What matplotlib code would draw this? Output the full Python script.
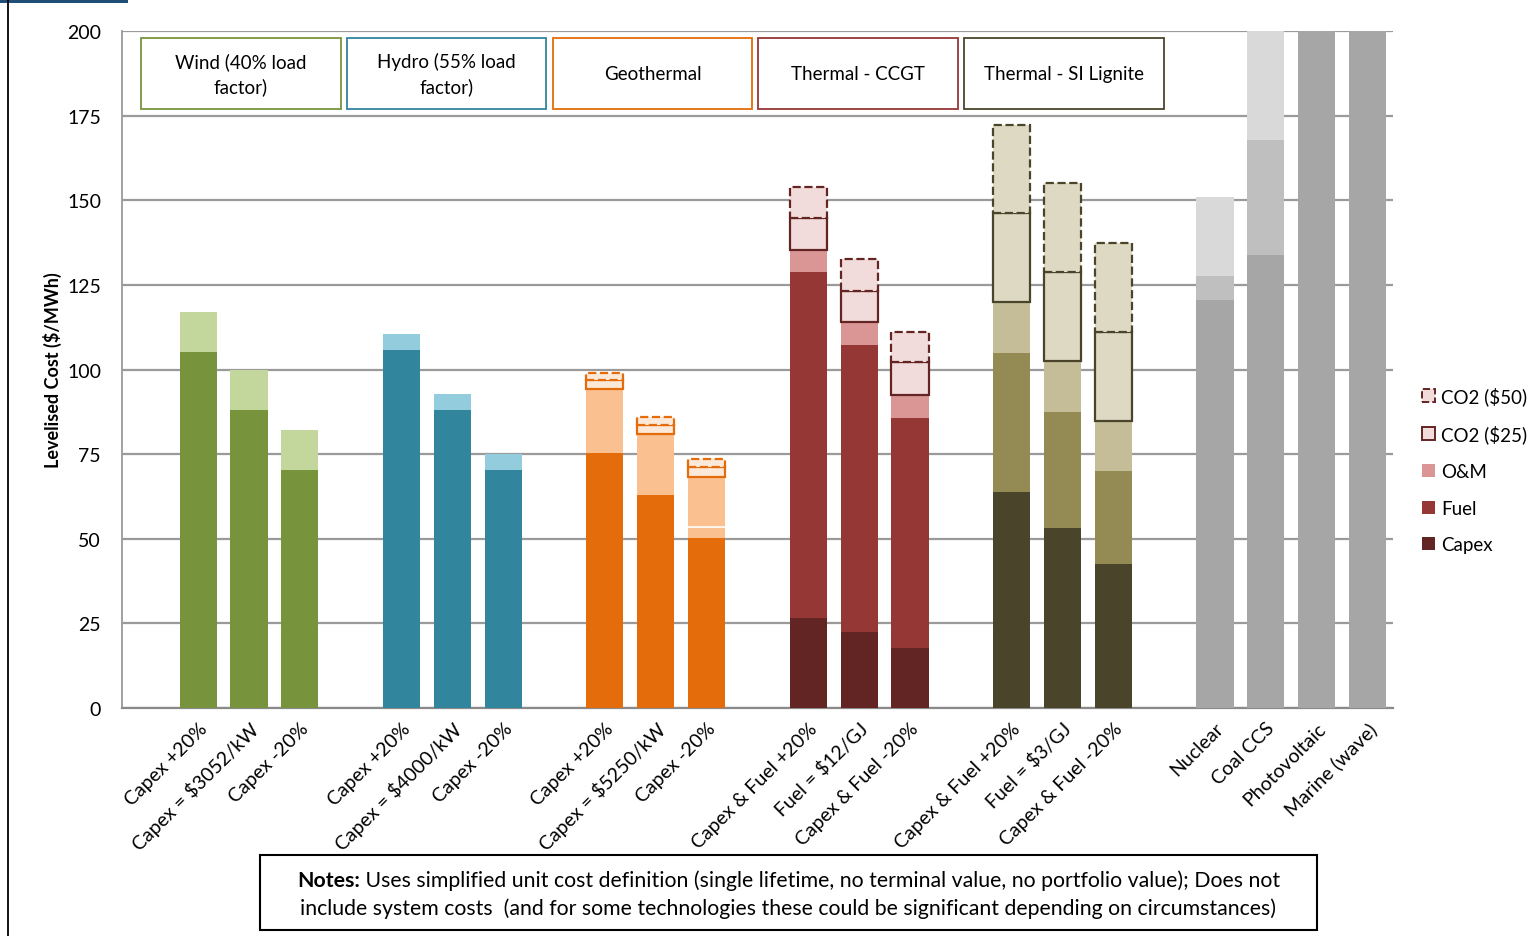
import matplotlib
matplotlib.use("Agg")
import matplotlib.pyplot as plt
from matplotlib.patches import Patch, Rectangle
from matplotlib.lines import Line2D

plt.rcParams['font.family'] = ['Lato', 'DejaVu Sans']

# ---- data ($/MWh) ----
wind_labels = ["Capex +20%", "Capex = $3052/kW", "Capex -20%"]
wind_capex = [105.2, 88.0, 70.3]
wind_om = [11.8, 11.9, 11.8]

hydro_labels = ["Capex +20%", "Capex = $4000/kW", "Capex -20%"]
hydro_capex = [105.8, 88.0, 70.3]
hydro_om = [4.7, 4.8, 4.7]

geo_labels = ["Capex +20%", "Capex = $5250/kW", "Capex -20%"]
geo_capex = [75.3, 62.9, 50.2]
geo_extra = [0.0, 0.0, 3.3]
geo_om = [18.9, 18.0, 14.8]
geo_co2_25 = [2.7, 2.8, 2.8]
geo_co2_50 = [2.1, 2.4, 2.5]

ccgt_labels = ["Capex & Fuel +20%", "Fuel = $12/GJ", "Capex & Fuel -20%"]
ccgt_capex = [26.6, 22.5, 17.7]
ccgt_fuel = [102.1, 84.7, 68.0]
ccgt_om = [6.7, 6.7, 6.8]
ccgt_co2_25 = [9.4, 9.3, 9.7]
ccgt_co2_50 = [9.2, 9.4, 8.9]

lig_labels = ["Capex & Fuel +20%", "Fuel = $3/GJ", "Capex & Fuel -20%"]
lig_capex = [63.8, 53.2, 42.5]
lig_fuel = [41.1, 34.3, 27.5]
lig_om = [15.1, 14.9, 14.9]
lig_co2_25 = [26.1, 26.4, 26.3]
lig_co2_50 = [26.2, 26.3, 26.2]

other_labels = ["Nuclear", "Coal CCS", "Photovoltaic", "Marine (wave)"]
other_a = [120.5, 133.9, 320.0, 290.0]
other_b = [7.2, 33.9, 0.0, 0.0]
other_c = [23.2, 60.0, 0.0, 0.0]

group_titles = ["Wind (40% load\nfactor)", "Hydro (55% load\nfactor)", "Geothermal",
                "Thermal - CCGT", "Thermal - SI Lignite"]

notes_bold = "Notes:"
notes_line1 = ("Uses simplified unit cost definition (single lifetime, no terminal value, "
               "no portfolio value); Does not")
notes_line2 = ("include system costs  (and for some technologies these could be significant "
               "depending on circumstances)")

# ---- figure ----
fig = plt.figure(figsize=(15.28, 9.37), dpi=100)
ax = fig.add_axes([0.0798, 0.2433, 0.8318, 0.7225])

W = 0.73
def xs(start):
    return [start + i for i in range(3)]

def stack(ax, x, segs, colors, edge=None):
    bottom = [0.0] * len(x)
    n = len(segs)
    for k, (vals, col) in enumerate(zip(segs, colors)):
        is_co2 = edge is not None and k >= n - 2
        ls = '--' if (is_co2 and k == n - 1) else '-'
        ax.bar(x, vals, W, bottom=bottom, color=col,
               edgecolor=edge if is_co2 else 'none',
               linewidth=1.6 if is_co2 else 0, linestyle=ls, zorder=3)
        bottom = [b + v for b, v in zip(bottom, vals)]

x_wind, x_hydro, x_geo, x_ccgt, x_lig = xs(1), xs(5), xs(9), xs(13), xs(17)
x_other = [21, 22, 23, 24]

stack(ax, x_wind, [wind_capex, wind_om], ['#77933C', '#C3D69B'])
stack(ax, x_hydro, [hydro_capex, hydro_om], ['#31859C', '#93CDDD'])
stack(ax, x_geo, [geo_capex, geo_extra, geo_om, geo_co2_25, geo_co2_50],
      ['#E46C0A', '#FAC090', '#FAC090', '#FDE9D9', '#FDE9D9'], edge='#E46C0A')
# white divider in the last geothermal bar
ax.hlines([geo_capex[2] + geo_extra[2]], x_geo[2] - W / 2, x_geo[2] + W / 2,
          colors='white', linewidth=1.2, zorder=4)
stack(ax, x_ccgt, [ccgt_capex, ccgt_fuel, ccgt_om, ccgt_co2_25, ccgt_co2_50],
      ['#632523', '#953735', '#D99694', '#F2DCDB', '#F2DCDB'], edge='#632523')
stack(ax, x_lig, [lig_capex, lig_fuel, lig_om, lig_co2_25, lig_co2_50],
      ['#4A452A', '#948A54', '#C4BD97', '#DDD9C3', '#DDD9C3'], edge='#4A452A')
stack(ax, x_other, [other_a, other_b, other_c], ['#A6A6A6', '#BFBFBF', '#D9D9D9'])

ax.set_xlim(-0.5, 24.5)
ax.set_ylim(0, 200)
ax.set_yticks(range(0, 201, 25))
ax.yaxis.grid(True, color='#9A9A9A', linewidth=1.6, zorder=0)
ax.set_axisbelow(True)
for s in ['top', 'right']:
    ax.spines[s].set_visible(False)
ax.spines['left'].set_color('#9A9A9A')
ax.spines['bottom'].set_color('#8A8A8A')
ax.spines['left'].set_linewidth(1.3)
ax.spines['bottom'].set_linewidth(1.6)
ax.tick_params(axis='both', length=0, labelsize=14)
ax.tick_params(axis='y', pad=15)

ticks = x_wind + x_hydro + x_geo + x_ccgt + x_lig + x_other
tlabels = wind_labels + hydro_labels + geo_labels + ccgt_labels + lig_labels + other_labels
ax.set_xticks(ticks)
ax.set_xticklabels(tlabels, rotation=45, ha='right', va='top', rotation_mode='anchor')
ax.tick_params(axis='x', pad=8)

ax.set_ylabel("Levelised Cost ($/MWh)", fontsize=13, fontweight='bold')
ax.yaxis.set_label_coords(-0.0475, 0.5)

# group title boxes
box_colors = ['#77933C', '#31859C', '#E46C0A', '#953735', '#4A452A']
for i, (t, c) in enumerate(zip(group_titles, box_colors)):
    x0 = -0.13 + 4.05 * i
    ax.add_patch(Rectangle((x0, 177.0), 3.93, 20.9, facecolor='white', edgecolor=c,
                           linewidth=1.3, zorder=5))
    ax.text(x0 + 3.93 / 2, 187.4, t, ha='center', va='center', fontsize=13.5,
            linespacing=1.45, zorder=6)

# legend
handles = [Patch(facecolor='#F2DCDB', edgecolor='#632523', linestyle='--', linewidth=1.4),
           Patch(facecolor='#F2DCDB', edgecolor='#632523', linewidth=1.4),
           Patch(facecolor='#D99694'), Patch(facecolor='#953735'), Patch(facecolor='#632523')]
ax.legend(handles, ["CO2 ($50)", "CO2 ($25)", "O&M", "Fuel", "Capex"],
          loc='center left', bbox_to_anchor=(1.017, 0.352), frameon=False,
          fontsize=13.5, handlelength=0.7, handleheight=0.7, handletextpad=0.3,
          labelspacing=1.05, borderaxespad=0)

# notes box
fig.add_artist(Rectangle((0.170, 0.0064), 0.692, 0.080, transform=fig.transFigure,
                         facecolor='white', edgecolor='black', linewidth=1.5))
renderer = fig.canvas.get_renderer()
tb = fig.text(0, 0.0598, notes_bold, fontsize=15.3, fontweight='bold', va='center')
tn = fig.text(0, 0.0598, " " + notes_line1, fontsize=15.3, va='center')
wb = tb.get_window_extent(renderer).width / fig.bbox.width
wn = tn.get_window_extent(renderer).width / fig.bbox.width
x_start = 0.516 - (wb + wn) / 2
tb.set_x(x_start)
tn.set_x(x_start + wb)
fig.text(0.516, 0.0299, notes_line2, ha='center', va='center', fontsize=15.3)

# page decorations from the screenshot crop
fig.add_artist(Line2D([0.0055, 0.0055], [0, 1], transform=fig.transFigure,
                      color='black', linewidth=1.3))
fig.add_artist(Rectangle((0, 0.996), 0.084, 0.004, transform=fig.transFigure,
                         facecolor='#1F4E79', edgecolor='none'))

fig.savefig("out.png", dpi=100)
